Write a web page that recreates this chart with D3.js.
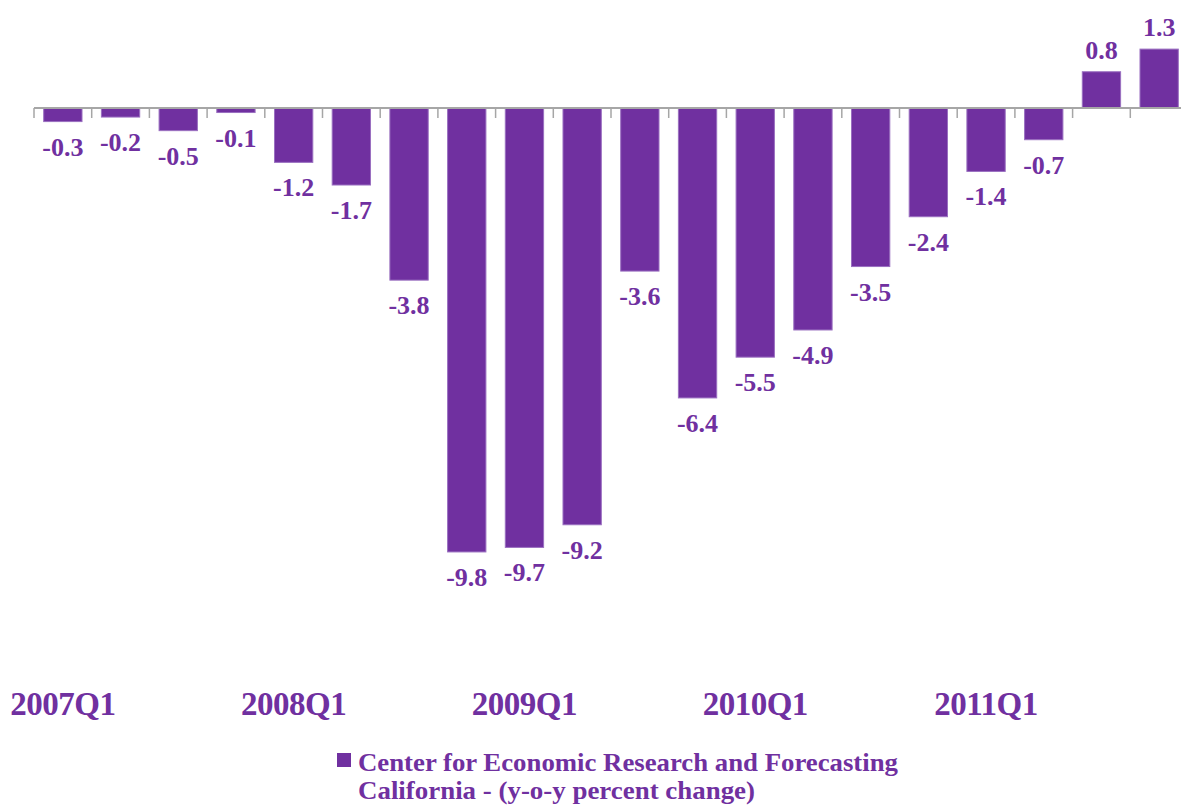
<!DOCTYPE html>
<html>
<head>
<meta charset="utf-8">
<script src="https://cdn.jsdelivr.net/npm/d3@7"></script>
<style>
  html, body { margin: 0; padding: 0; background: #fff; }
  svg { display: block; }
  text { font-family: "Liberation Serif", "DejaVu Serif", serif; font-weight: bold; fill: #7030A0; }
</style>
</head>
<body>
<svg id="chart" width="1181" height="806"></svg>
<script>
const categories = [
  "2007Q1","2007Q2","2007Q3","2007Q4",
  "2008Q1","2008Q2","2008Q3","2008Q4",
  "2009Q1","2009Q2","2009Q3","2009Q4",
  "2010Q1","2010Q2","2010Q3","2010Q4",
  "2011Q1","2011Q2","2011Q3","2011Q4"
];
const values = [-0.3, -0.2, -0.5, -0.1, -1.2, -1.7, -3.8, -9.8, -9.7, -9.2,
                -3.6, -6.4, -5.5, -4.9, -3.5, -2.4, -1.4, -0.7, 0.8, 1.3];
const tickLabels = ["2007Q1", "2008Q1", "2009Q1", "2010Q1", "2011Q1"];
const legendLines = ["Center for Economic Research and Forecasting",
                     "California - (y-o-y percent change)"];

const purple = "#7030A0";
const svg = d3.select("#chart");

const x = d3.scaleBand().domain(categories).range([34, 34 + 20 * 57.7]).padding(0);
const y = d3.scaleLinear().domain([0, -10]).range([108, 108 + 453]);
const barFrac = 0.664;
const bw = x.bandwidth() * barFrac;
const off = (x.bandwidth() - bw) / 2;

// bars
svg.append("g").selectAll("rect").data(values).join("rect")
  .attr("x", (d, i) => x(categories[i]) + off)
  .attr("width", bw)
  .attr("y", d => y(Math.max(0, d)))
  .attr("height", d => Math.abs(y(d) - y(0)))
  .attr("fill", purple)
  .attr("stroke", "#9a6fc0")
  .attr("stroke-width", 1);

// axis line and ticks
svg.append("line")
  .attr("x1", x.range()[0]).attr("x2", 1181)
  .attr("y1", y(0)).attr("y2", y(0))
  .attr("stroke", "#a6a6a6").attr("stroke-width", 2);
svg.append("g").selectAll("line").data(categories).join("line")
  .attr("x1", d => x(d)).attr("x2", d => x(d))
  .attr("y1", y(0)).attr("y2", y(0) + 10)
  .attr("stroke", "#a6a6a6").attr("stroke-width", 1.5);

// value labels
svg.append("g").selectAll("text").data(values).join("text")
  .attr("x", (d, i) => x(categories[i]) + x.bandwidth() / 2)
  .attr("y", d => d < 0 ? y(d) + 34 : y(d) - 13)
  .attr("text-anchor", "middle")
  .attr("font-size", 26)
  .text(d => d.toFixed(1));

// category labels
svg.append("g").selectAll("text").data(tickLabels).join("text")
  .attr("x", d => x(d) + x.bandwidth() / 2)
  .attr("y", 715)
  .attr("text-anchor", "middle")
  .attr("font-size", 33)
  .attr("letter-spacing", -0.5)
  .text(d => d);

// legend
const lg = svg.append("g");
lg.append("rect").attr("x", 337).attr("y", 753).attr("width", 14).attr("height", 14).attr("fill", purple);
lg.selectAll("text").data(legendLines).join("text")
  .attr("x", 358)
  .attr("y", (d, i) => 771 + i * 28)
  .attr("font-size", 26)
  .attr("textLength", (d, i) => i === 0 ? 540 : 397)
  .attr("lengthAdjust", "spacingAndGlyphs")
  .text(d => d);
</script>
</body>
</html>
